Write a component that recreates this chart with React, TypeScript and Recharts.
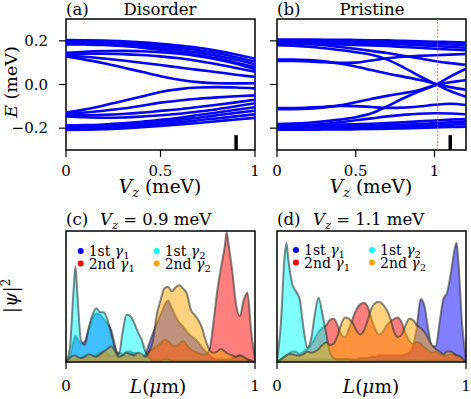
import React from 'react';
import { LineChart, Line, AreaChart, Area, XAxis, YAxis, ReferenceArea, ReferenceLine } from 'recharts';

const FONT = '"DejaVu Serif", serif';

// ---------- Panel (a): Disorder — energy levels vs Vz ----------
const vzA = [0, 0.1, 0.2, 0.3, 0.4, 0.5, 0.6, 0.7, 0.8, 0.9, 1.0];
const bandsA: number[][] = [
  [0.204, 0.203, 0.201, 0.198, 0.193, 0.186, 0.178, 0.168, 0.154, 0.137, 0.118],
  [0.198, 0.197, 0.195, 0.191, 0.185, 0.177, 0.168, 0.157, 0.143, 0.125, 0.105],
  [0.191, 0.190, 0.188, 0.184, 0.177, 0.168, 0.158, 0.146, 0.131, 0.113, 0.092],
  [0.184, 0.183, 0.181, 0.176, 0.169, 0.159, 0.148, 0.135, 0.119, 0.100, 0.080],
  [0.145, 0.150, 0.153, 0.154, 0.152, 0.148, 0.141, 0.130, 0.115, 0.095, 0.070],
  [0.138, 0.141, 0.141, 0.139, 0.135, 0.129, 0.120, 0.108, 0.093, 0.076, 0.058],
  [0.132, 0.127, 0.119, 0.110, 0.100, 0.089, 0.078, 0.067, 0.056, 0.045, 0.035],
  [0.128, 0.114, 0.097, 0.078, 0.058, 0.038, 0.022, 0.011, 0.006, 0.005, 0.006],
  [-0.208, -0.207, -0.205, -0.201, -0.196, -0.190, -0.183, -0.176, -0.168, -0.160, -0.153],
  [-0.201, -0.200, -0.198, -0.194, -0.188, -0.181, -0.173, -0.164, -0.155, -0.146, -0.137],
  [-0.194, -0.193, -0.190, -0.186, -0.179, -0.171, -0.162, -0.152, -0.141, -0.130, -0.120],
  [-0.187, -0.186, -0.183, -0.178, -0.171, -0.162, -0.152, -0.140, -0.128, -0.116, -0.104],
  [-0.146, -0.150, -0.152, -0.151, -0.147, -0.141, -0.134, -0.124, -0.113, -0.100, -0.086],
  [-0.139, -0.141, -0.139, -0.135, -0.129, -0.121, -0.113, -0.103, -0.093, -0.082, -0.070],
  [-0.133, -0.128, -0.120, -0.110, -0.097, -0.083, -0.073, -0.065, -0.059, -0.054, -0.050],
  [-0.129, -0.114, -0.096, -0.076, -0.055, -0.034, -0.021, -0.014, -0.012, -0.014, -0.018],
];
const markerA = 0.9;

// ---------- Panel (b): Pristine — energy levels vs Vz ----------
const vzB = [0, 0.1, 0.2, 0.3, 0.4, 0.5, 0.6, 0.7, 0.8, 0.9, 1.0, 1.1, 1.2];
const bandsB: number[][] = [
  [0.206, 0.206, 0.206, 0.205, 0.205, 0.204, 0.203, 0.202, 0.200, 0.198, 0.196, 0.194, 0.192],
  [0.200, 0.200, 0.200, 0.199, 0.198, 0.197, 0.196, 0.194, 0.192, 0.189, 0.186, 0.183, 0.180],
  [0.193, 0.193, 0.193, 0.192, 0.191, 0.190, 0.188, 0.186, 0.183, 0.180, 0.176, 0.172, 0.168],
  [0.186, 0.186, 0.185, 0.184, 0.183, 0.181, 0.179, 0.176, 0.172, 0.168, 0.164, 0.160, 0.157],
  [0.180, 0.178, 0.173, 0.166, 0.158, 0.148, 0.136, 0.114, 0.080, 0.040, 0.004, -0.030, -0.056],
  [0.114, 0.114, 0.112, 0.106, 0.096, 0.082, 0.066, 0.050, 0.036, 0.022, 0.004, -0.012, -0.024],
  [0.108, 0.108, 0.106, 0.102, 0.099, 0.100, 0.110, 0.120, 0.127, 0.131, 0.134, 0.137, 0.140],
  [0.190, 0.189, 0.186, 0.180, 0.172, 0.163, 0.154, 0.144, 0.132, 0.120, 0.108, 0.098, 0.090],
  [-0.207, -0.207, -0.207, -0.206, -0.206, -0.205, -0.204, -0.203, -0.201, -0.199, -0.197, -0.195, -0.193],
  [-0.201, -0.201, -0.201, -0.200, -0.199, -0.198, -0.197, -0.195, -0.193, -0.190, -0.187, -0.184, -0.181],
  [-0.194, -0.194, -0.194, -0.193, -0.192, -0.191, -0.189, -0.187, -0.184, -0.181, -0.177, -0.173, -0.169],
  [-0.187, -0.187, -0.186, -0.185, -0.184, -0.182, -0.180, -0.177, -0.173, -0.169, -0.165, -0.161, -0.158],
  [-0.181, -0.179, -0.175, -0.169, -0.161, -0.150, -0.132, -0.100, -0.064, -0.032, -0.004, 0.036, 0.072],
  [-0.113, -0.113, -0.111, -0.105, -0.095, -0.081, -0.066, -0.052, -0.040, -0.026, -0.004, 0.010, 0.020],
  [-0.108, -0.108, -0.106, -0.102, -0.098, -0.099, -0.103, -0.107, -0.106, -0.101, -0.093, -0.088, -0.094],
  [-0.191, -0.190, -0.187, -0.181, -0.173, -0.164, -0.155, -0.146, -0.139, -0.134, -0.132, -0.133, -0.136],
];
const markerB = 1.1;
const zeroCrossB = 1.02;

// ---------- Panel (c): |psi|^2 at Vz = 0.9 meV ----------
const LC = [0, 0.02, 0.04, 0.05, 0.06, 0.08, 0.10, 0.12, 0.14, 0.16,
  0.18, 0.20, 0.22, 0.24, 0.26, 0.28, 0.30, 0.32, 0.34, 0.36,
  0.38, 0.40, 0.42, 0.44, 0.46, 0.48, 0.50, 0.52, 0.54, 0.56,
  0.58, 0.60, 0.62, 0.64, 0.66, 0.68, 0.70, 0.72, 0.74, 0.76,
  0.78, 0.80, 0.82, 0.84, 0.85, 0.86, 0.88, 0.90, 0.92, 0.94,
  0.96, 0.98, 1.00];
const cBlue = [0.00, 0.04, 0.16, 0.20, 0.18, 0.14, 0.16, 0.25, 0.33, 0.37,
  0.36, 0.33, 0.29, 0.24, 0.12, 0.04, 0.05, 0.08, 0.08, 0.06,
  0.04, 0.03, 0.06, 0.14, 0.22, 0.29, 0.36, 0.43, 0.47, 0.41,
  0.35, 0.30, 0.27, 0.23, 0.20, 0.18, 0.15, 0.11, 0.08, 0.05,
  0.03, 0.02, 0.02, 0.02, 0.02, 0.02, 0.03, 0.04, 0.05, 0.03,
  0.02, 0.01, 0.00];
const cRed = [0.00, 0.01, 0.02, 0.02, 0.02, 0.03, 0.05, 0.04, 0.03, 0.05,
  0.07, 0.08, 0.06, 0.04, 0.05, 0.07, 0.06, 0.04, 0.05, 0.07,
  0.06, 0.04, 0.05, 0.08, 0.10, 0.12, 0.14, 0.17, 0.16, 0.13,
  0.12, 0.14, 0.16, 0.13, 0.10, 0.08, 0.07, 0.06, 0.06, 0.10,
  0.30, 0.54, 0.72, 0.88, 0.99, 0.90, 0.69, 0.44, 0.35, 0.47,
  0.53, 0.23, 0.02];
const cCyan = [0.00, 0.10, 0.55, 0.73, 0.52, 0.16, 0.13, 0.26, 0.36, 0.41,
  0.38, 0.38, 0.32, 0.21, 0.10, 0.06, 0.23, 0.36, 0.35, 0.30,
  0.23, 0.17, 0.08, 0.03, 0.01, 0.01, 0.01, 0.02, 0.02, 0.01,
  0.01, 0.01, 0.01, 0.01, 0.01, 0.01, 0.01, 0.01, 0.01, 0.01,
  0.01, 0.01, 0.01, 0.01, 0.01, 0.01, 0.01, 0.01, 0.01, 0.01,
  0.01, 0.00, 0.00];
const cOrange = [0.00, 0.03, 0.05, 0.05, 0.04, 0.03, 0.04, 0.06, 0.05, 0.04,
  0.06, 0.08, 0.10, 0.12, 0.08, 0.04, 0.05, 0.07, 0.06, 0.05,
  0.07, 0.06, 0.04, 0.08, 0.16, 0.36, 0.47, 0.56, 0.575, 0.54,
  0.57, 0.585, 0.56, 0.52, 0.40, 0.36, 0.32, 0.26, 0.16, 0.09,
  0.07, 0.08, 0.10, 0.08, 0.07, 0.06, 0.05, 0.04, 0.05, 0.04,
  0.02, 0.01, 0.00];

// ---------- Panel (d): |psi|^2 at Vz = 1.1 meV ----------
const LD = [0, 0.02, 0.04, 0.05, 0.06, 0.08, 0.10, 0.12, 0.14, 0.16,
  0.18, 0.20, 0.22, 0.24, 0.26, 0.28, 0.30, 0.32, 0.34, 0.36,
  0.38, 0.40, 0.42, 0.44, 0.46, 0.48, 0.50, 0.52, 0.54, 0.56,
  0.58, 0.60, 0.62, 0.64, 0.66, 0.68, 0.70, 0.72, 0.74, 0.76,
  0.78, 0.80, 0.82, 0.84, 0.86, 0.88, 0.90, 0.92, 0.94, 0.95,
  0.96, 0.98, 1.00];
const dBlue = [0.00, 0.01, 0.02, 0.02, 0.02, 0.02, 0.02, 0.02, 0.02, 0.02,
  0.02, 0.02, 0.02, 0.02, 0.02, 0.02, 0.02, 0.02, 0.02, 0.02,
  0.02, 0.02, 0.02, 0.03, 0.03, 0.03, 0.04, 0.04, 0.05, 0.05,
  0.05, 0.05, 0.05, 0.05, 0.05, 0.06, 0.07, 0.12, 0.27, 0.48,
  0.43, 0.25, 0.12, 0.12, 0.30, 0.48, 0.53, 0.68, 0.86, 0.91,
  0.76, 0.28, 0.02];
const dRed = [0.00, 0.02, 0.04, 0.05, 0.06, 0.08, 0.08, 0.06, 0.08, 0.10,
  0.13, 0.18, 0.23, 0.26, 0.28, 0.32, 0.33, 0.28, 0.21, 0.19,
  0.25, 0.33, 0.40, 0.44, 0.45, 0.42, 0.33, 0.25, 0.21, 0.23,
  0.28, 0.31, 0.33, 0.34, 0.30, 0.22, 0.16, 0.14, 0.15, 0.14,
  0.11, 0.09, 0.07, 0.08, 0.06, 0.05, 0.05, 0.06, 0.06, 0.05,
  0.04, 0.02, 0.00];
const dCyan = [0.01, 0.28, 0.80, 0.91, 0.78, 0.60, 0.54, 0.48, 0.26, 0.11,
  0.17, 0.36, 0.49, 0.37, 0.22, 0.07, 0.03, 0.02, 0.02, 0.02,
  0.02, 0.01, 0.01, 0.01, 0.01, 0.01, 0.01, 0.01, 0.01, 0.01,
  0.01, 0.01, 0.01, 0.01, 0.01, 0.01, 0.01, 0.01, 0.01, 0.01,
  0.01, 0.01, 0.01, 0.01, 0.01, 0.01, 0.01, 0.01, 0.01, 0.01,
  0.01, 0.00, 0.00];
const dOrange = [0.00, 0.02, 0.04, 0.05, 0.06, 0.06, 0.05, 0.05, 0.06, 0.08,
  0.07, 0.08, 0.10, 0.13, 0.15, 0.13, 0.14, 0.20, 0.29, 0.34,
  0.33, 0.30, 0.24, 0.21, 0.24, 0.32, 0.41, 0.45, 0.46, 0.44,
  0.40, 0.33, 0.23, 0.19, 0.21, 0.28, 0.33, 0.32, 0.28, 0.26,
  0.23, 0.18, 0.13, 0.10, 0.08, 0.06, 0.08, 0.08, 0.06, 0.05,
  0.05, 0.03, 0.00];

const legendLabels = ['1st', '2nd', '1st', '2nd'];
const legendSubs = ['1', '1', '2', '2'];
const legendColors = ['#0000ff', '#ff0000', '#00ffff', '#ffa500'];
const seriesKeys = ['b', 'r', 'c', 'o'];

// ---------- helpers ----------
const tickStyle = { fontFamily: FONT, fontSize: 15, fill: '#000' };
const tickLine = { stroke: '#000', strokeWidth: 1.2 };
const fmtE = (v: number) => (v < 0 ? '\u2212' : '') + Math.abs(v).toFixed(1);
const fmtX = (v: number) => String(v);

function buildBandRows(vz: number[], bands: number[][]) {
  return vz.map((v, i) => {
    const row: Record<string, number> = { vz: v };
    bands.forEach((b, k) => { row['e' + k] = b[i]; });
    return row;
  });
}
function buildPsiRows(L: number[], b: number[], r: number[], c: number[], o: number[]) {
  return L.map((x, i) => ({ L: x, b: b[i], r: r[i], c: c[i], o: o[i] }));
}

const rowsA = buildBandRows(vzA, bandsA);
const rowsB = buildBandRows(vzB, bandsB);
const rowsC = buildPsiRows(LC, cBlue, cRed, cCyan, cOrange);
const rowsD = buildPsiRows(LD, dBlue, dRed, dCyan, dOrange);

const abs: React.CSSProperties = { position: 'absolute', left: 0, top: 0 };

function BandPanel(props: { rows: any[]; nBands: number; xMax: number; left: number; right: number; labels: boolean; marker: number; zeroCross?: number }) {
  const { rows, nBands, xMax, left, right, labels, marker, zeroCross } = props;
  return (
    <div style={abs}>
      <LineChart width={471} height={399} data={rows} margin={{ top: 19, right, bottom: 219, left: left - 60 }}>
        <XAxis dataKey="vz" type="number" domain={[0, xMax]} ticks={[0, 0.5, 1]} tickFormatter={fmtX}
          height={30} axisLine={false} tickSize={7} tickMargin={8} tick={tickStyle} tickLine={tickLine} allowDataOverflow />
        <YAxis type="number" domain={[-0.3, 0.3]} ticks={[-0.2, 0, 0.2]} width={60}
          tickFormatter={labels ? fmtE : () => ''} axisLine={false} tickSize={7} tickMargin={11} tick={tickStyle} tickLine={tickLine} allowDataOverflow />
        {Array.from({ length: nBands }).map((_, k) => (
          <Line key={k} dataKey={'e' + k} type="monotone" stroke="#0000ff" strokeWidth={2.6}
            dot={false} activeDot={false} isAnimationActive={false} />
        ))}
        {zeroCross !== undefined && (
          <ReferenceLine x={zeroCross} stroke="#ff5a5a" strokeOpacity={0.8} strokeWidth={1.2} strokeDasharray="2 1.5" />
        )}
        <ReferenceLine segment={[{ x: marker, y: -0.3 }, { x: marker, y: -0.232 }]} stroke="#000" strokeWidth={3.5} />
        <ReferenceArea x1={0} x2={xMax} y1={-0.3} y2={0.3} fill="none" stroke="#000" strokeWidth={1.5} />
      </LineChart>
    </div>
  );
}

function PsiPanel(props: { rows: any[]; left: number; right: number }) {
  const { rows, left, right } = props;
  return (
    <div style={abs}>
      <AreaChart width={471} height={399} data={rows} margin={{ top: 231, right, bottom: 7, left }}>
        <XAxis dataKey="L" type="number" domain={[0, 1]} ticks={[0, 1]} tickFormatter={fmtX}
          height={30} axisLine={false} tickSize={7} tickMargin={11} tick={tickStyle} tickLine={tickLine} allowDataOverflow />
        <YAxis type="number" domain={[0, 1]} hide allowDataOverflow />
        {seriesKeys.map((k, i) => (
          <Area key={k} dataKey={k} type="monotone" fill={legendColors[i]} fillOpacity={0.5}
            stroke="#333333" strokeOpacity={0.6} strokeWidth={2} dot={false} activeDot={false}
            isAnimationActive={false} />
        ))}
        <ReferenceArea x1={0} x2={1} y1={0} y2={1} fill="none" stroke="#000" strokeWidth={1.5} />
      </AreaChart>
    </div>
  );
}

function Legend(props: { x: number; y: number }) {
  const { x, y } = props;
  const pos = [[0, 0], [0, 1], [1, 0], [1, 1]];
  return (
    <g>
      {pos.map(([col, row], i) => {
        const dx = x + col * 76;
        const dy = y + row * 12.5;
        return (
          <g key={i}>
            <circle cx={dx} cy={dy} r={3} fill={legendColors[i]} />
            <text x={dx + 8} y={dy + 5} fontFamily={FONT} fontSize={14} fill="#000">
              {legendLabels[i]}{' '}
              <tspan fontStyle="italic">{'\u03b3'}</tspan>
              <tspan fontSize={10} dy={3}>{legendSubs[i]}</tspan>
            </text>
          </g>
        );
      })}
    </g>
  );
}

function VzLabel(props: { x: number; y: number; anchor?: string; rest: string; size: number }) {
  return (
    <text x={props.x} y={props.y} textAnchor={props.anchor || 'start'} fontFamily={FONT} fontSize={props.size} fill="#000">
      <tspan fontStyle="italic">V</tspan>
      <tspan fontStyle="italic" fontSize={props.size * 0.7} dy={4}>z</tspan>
      <tspan dy={-4}>{props.rest}</tspan>
    </text>
  );
}

export default function App() {
  const T = { fontFamily: FONT, fontSize: 16.5, fill: '#000' };
  const AX = { fontFamily: FONT, fontSize: 18.5, fill: '#000' };
  return (
    <div style={{ position: 'absolute', left: 0, top: 0, width: 471, height: 399, background: '#fff' }}>
      <BandPanel rows={rowsA} nBands={bandsA.length} xMax={1} left={66} right={216} labels={true} marker={markerA} />
      <BandPanel rows={rowsB} nBands={bandsB.length} xMax={1.2} left={277} right={5} labels={false} marker={markerB} zeroCross={zeroCrossB} />
      <PsiPanel rows={rowsC} left={66} right={216} />
      <PsiPanel rows={rowsD} left={277} right={5} />
      <svg width={471} height={399} style={abs}>
        <text x={66} y={15} {...T}>(a)</text>
        <text x={160} y={15} textAnchor="middle" {...T}>Disorder</text>
        <text x={277} y={15} {...T}>(b)</text>
        <text x={372} y={15} textAnchor="middle" {...T}>Pristine</text>
        <text x={17} y={82} textAnchor="middle" transform="rotate(-90 17 82)" fontFamily={FONT} fontSize={17.5} fill="#000">
          <tspan fontStyle="italic">E</tspan> (meV)
        </text>
        <VzLabel x={160} y={193} anchor="middle" rest=" (meV)" size={18.5} />
        <VzLabel x={371} y={193} anchor="middle" rest=" (meV)" size={18.5} />
        <text x={66} y={225} {...T}>(c)</text>
        <VzLabel x={100} y={225} rest=" = 0.9 meV" size={16.5} />
        <text x={277} y={225} {...T}>(d)</text>
        <VzLabel x={313} y={225} rest=" = 1.1 meV" size={16.5} />
        <text x={17} y={296} textAnchor="middle" transform="rotate(-90 17 296)" {...AX}>
          |<tspan fontStyle="italic">{'\u03c8'}</tspan>|<tspan fontSize={12} dy={-7}>2</tspan>
        </text>
        <text x={158} y={393} textAnchor="middle" {...AX}>
          <tspan fontStyle="italic">L</tspan>(<tspan fontStyle="italic">{'\u03bc'}</tspan>m)
        </text>
        <text x={371} y={393} textAnchor="middle" {...AX}>
          <tspan fontStyle="italic">L</tspan>(<tspan fontStyle="italic">{'\u03bc'}</tspan>m)
        </text>
        <Legend x={80.7} y={251} />
        <Legend x={296} y={250} />
      </svg>
    </div>
  );
}
